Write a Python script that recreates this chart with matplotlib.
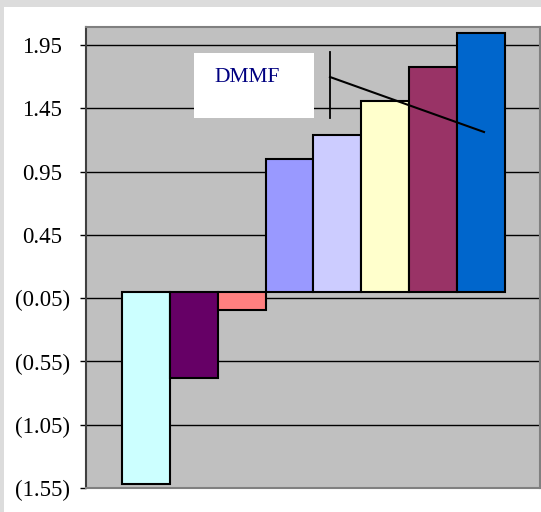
import matplotlib
matplotlib.use("Agg")
import matplotlib.pyplot as plt
from matplotlib.patches import Rectangle
from matplotlib.lines import Line2D
from matplotlib.transforms import blended_transform_factory

# bar values (one category, eight series)
values = [-1.52, -0.68, -0.145, 1.053, 1.243, 1.51, 1.78, 2.05]
colors = ['#CCFFFF', '#660066', '#FF8080', '#9999FF',
          '#CCCCFF', '#FFFFCC', '#993366', '#0066CC']
tick_values = [-1.55, -1.05, -0.55, -0.05, 0.45, 0.95, 1.45, 1.95]
box_label = "DMMF"


def fmt(v):
    return f"({abs(v):.2f})" if v < 0 else f"{v:.2f}"


W, H = 541, 512


def fx(x):
    return x / W


def fy(y):
    return 1 - y / H


plt.rcParams['font.family'] = ['Liberation Serif', 'DejaVu Serif']

fig = plt.figure(figsize=(W / 100, H / 100), dpi=100, facecolor='#dcdcdc')
# white chart area
fig.patches.append(Rectangle((fx(4), 0), 1 - fx(4), fy(7), transform=fig.transFigure,
                             facecolor='white', edgecolor='none', zorder=-10))

ax = fig.add_axes([fx(86), fy(488), fx(539.5) - fx(86), fy(27) - fy(488)])
ax.set_facecolor('#c0c0c0')

x = list(range(len(values)))
ax.bar(x, values, width=1.0, color=colors, edgecolor='black', linewidth=1.5, zorder=3)

ax.set_xlim(-0.5 - 0.76, len(values) - 0.5 + 0.73)
ax.set_ylim(-1.55, 2.094)
ax.set_yticks(tick_values)
ax.set_yticklabels([])
ax.set_xticks([])
ax.yaxis.grid(True, color='black', linewidth=1.0, zorder=1)
ax.set_axisbelow(True)
ax.tick_params(axis='y', length=4.5, width=1, color='black')

# accounting-style labels: digits aligned, parentheses hang to the right
lab_tr = blended_transform_factory(fig.transFigure, ax.transData)
for v in tick_values:
    right = fx(70) if v < 0 else fx(62)
    ax.text(right, v, fmt(v), transform=lab_tr, ha='right', va='center_baseline',
            fontsize=16.5, clip_on=False)

for side in ['top', 'right', 'bottom']:
    ax.spines[side].set_color('#808080')
    ax.spines[side].set_linewidth(1.5)
ax.spines['left'].set_color('#404040')
ax.spines['left'].set_linewidth(1.5)

# leftover drawing objects: label box and lines
fig.patches.append(Rectangle((fx(194), fy(118)), fx(314) - fx(194), fy(53) - fy(118),
                             transform=fig.transFigure, facecolor='white',
                             edgecolor='none', zorder=5))
fig.text(fx(214), fy(82), box_label, color='#000080', fontsize=15.5,
         va='baseline', ha='left', zorder=6)
fig.lines.append(Line2D([fx(330), fx(330)], [fy(52), fy(118)], transform=fig.transFigure,
                        color='black', linewidth=1.3, zorder=6))
fig.lines.append(Line2D([fx(330), fx(484)], [fy(77), fy(132)], transform=fig.transFigure,
                        color='black', linewidth=1.5, zorder=6))

fig.savefig("out.png", dpi=100, facecolor=fig.get_facecolor())
